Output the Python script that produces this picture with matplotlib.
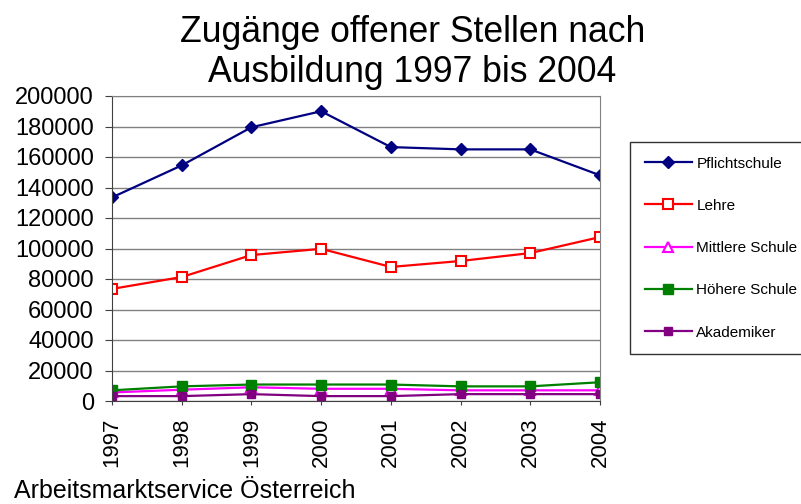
import matplotlib.pyplot as plt

plt.rcParams['font.family'] = ['Liberation Sans', 'DejaVu Sans']

years = ['1997', '1998', '1999', '2000', '2001', '2002', '2003', '2004']
pflicht = [133500, 154500, 179500, 190000, 166500, 165000, 165000, 148000]
lehre = [73500, 81300, 95700, 99800, 87900, 91800, 97000, 107500]
mittlere = [5600, 7400, 9000, 8000, 8000, 7000, 7000, 7000]
hoehere = [7000, 9600, 10800, 10800, 10800, 9600, 9600, 12300]
akad = [3200, 3200, 4500, 3200, 3200, 4500, 4500, 4500]
yticks = [0, 20000, 40000, 60000, 80000, 100000, 120000, 140000, 160000, 180000, 200000]

fig = plt.figure(figsize=(8.01, 5.04), dpi=100)
ax = fig.add_axes([112/801, 1-401/504, 488/801, 305/504])

x = list(range(len(years)))
ax.plot(x, pflicht, color='#000080', marker='D', ms=6, lw=1.6, label='Pflichtschule')
ax.plot(x, lehre, color='#FF0000', marker='s', ms=7, mfc='white', mew=1.5, lw=1.6, label='Lehre')
ax.plot(x, mittlere, color='#FF00FF', marker='^', ms=7, mfc='white', mew=1.5, lw=1.6, label='Mittlere Schule')
ax.plot(x, hoehere, color='#008000', marker='s', ms=7, lw=1.6, label='Höhere Schule')
ax.plot(x, akad, color='#800080', marker='s', ms=6, lw=1.6, label='Akademiker')

ax.set_xlim(0, 7)
ax.set_ylim(0, 200000)
ax.set_yticks(yticks)
ax.set_yticklabels([str(v) for v in yticks], fontsize=17)
ax.set_xticks(x)
ax.set_xticklabels(years, rotation=90, fontsize=16)
ax.yaxis.grid(True, color='#808080', lw=1)
ax.set_axisbelow(True)
for s in ['top', 'right']:
    ax.spines[s].set_color('#808080')
for s in ['left', 'bottom']:
    ax.spines[s].set_color('#404040')
ax.tick_params(axis='both', length=5, color='#404040')
ax.tick_params(axis='y', pad=8)
ax.tick_params(axis='x', length=3, pad=9)

fig.text(0.515, 1-42/504, 'Zugänge offener Stellen nach', ha='center', va='baseline', fontsize=25.6)
fig.text(0.515, 1-82/504, 'Ausbildung 1997 bis 2004', ha='center', va='baseline', fontsize=25.6)
fig.text(14/801, 1-498/504, 'Arbeitsmarktservice Österreich', ha='left', va='baseline', fontsize=18)

leg = fig.legend(loc='upper left', bbox_to_anchor=(630/801, 1-142/504), fontsize=11,
                 frameon=True, fancybox=False, edgecolor='black', labelspacing=1.85,
                 handlelength=3.1, handletextpad=0.3, borderpad=0.95, borderaxespad=0)
leg.get_frame().set_linewidth(1)

fig.savefig('out.png', dpi=100)
